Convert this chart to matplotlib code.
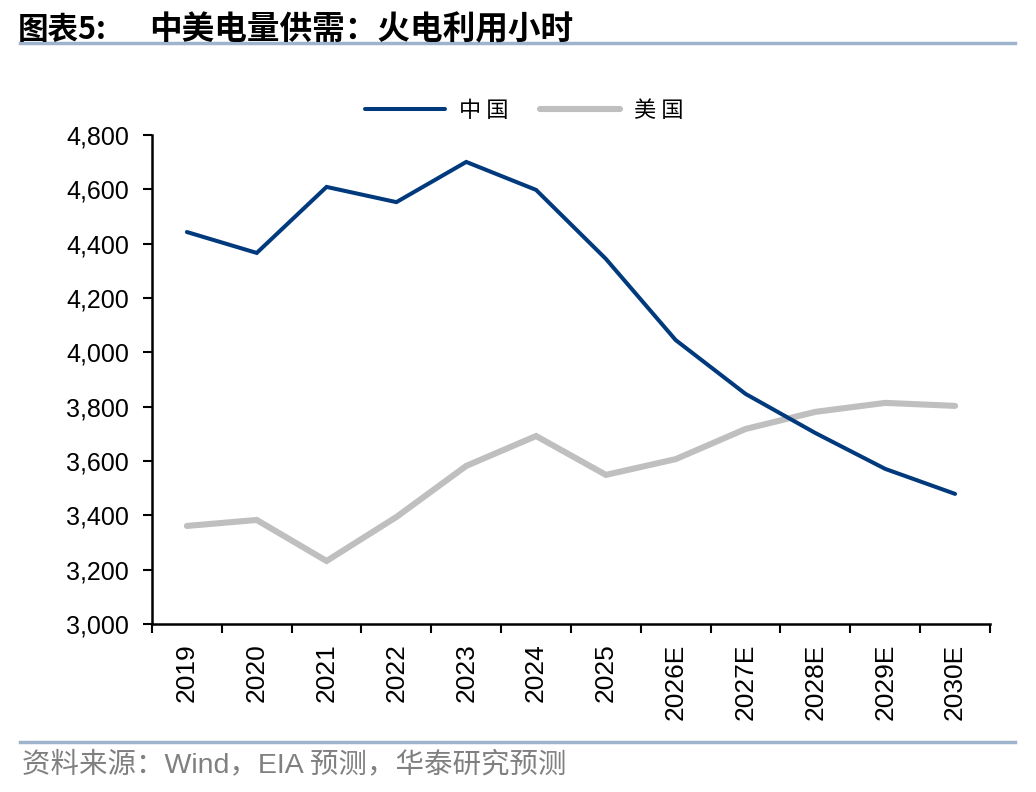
import matplotlib
matplotlib.use("Agg")
import matplotlib.pyplot as plt
from matplotlib.lines import Line2D
from matplotlib.ticker import FuncFormatter, FixedLocator

plt.rcParams['font.family'] = ['Liberation Sans', 'Noto Sans CJK SC', 'DejaVu Sans']

categories = ["2019", "2020", "2021", "2022", "2023", "2024", "2025",
              "2026E", "2027E", "2028E", "2029E", "2030E"]
china = [4443, 4366, 4609, 4553, 4701, 4598, 4344, 4045, 3847, 3703, 3571, 3479]
usa = [3361, 3383, 3232, 3394, 3582, 3692, 3549, 3607, 3718, 3781, 3814, 3803]
series_names = ["中 国", "美 国"]
title_prefix = "图表5:"
title_text = "中美电量供需：火电利用小时"
source_text = "资料来源：Wind，EIA 预测，华泰研究预测"

c_china = "#003A7D"
c_us = "#BFBFBF"
rule_color = "#9DB4CC"

fig = plt.figure(figsize=(10.36, 7.92), dpi=100)
ax = fig.add_axes([0.1467, 0.2121, 0.8089, 0.6174])

x = list(range(len(categories)))
ax.plot(x, usa, color=c_us, lw=4.4, solid_capstyle='round', solid_joinstyle='miter')
ax.plot(x, china, color=c_china, lw=2.9, solid_capstyle='round', solid_joinstyle='miter')

ax.set_ylim(3000, 4800)
ax.set_yticks(range(3000, 4801, 200))
ax.yaxis.set_major_formatter(FuncFormatter(lambda v, p: f"{int(v):,}"))
ax.set_xlim(-0.5, len(categories) - 0.5)
ax.xaxis.set_major_locator(FixedLocator([i - 0.5 for i in range(len(categories) + 1)]))
ax.xaxis.set_major_formatter(FuncFormatter(lambda v, p: ""))
ax.xaxis.set_minor_locator(FixedLocator(x))
ax.set_xticklabels(categories, minor=True, rotation=90, fontsize=19)
ax.tick_params(axis='x', which='minor', length=0, pad=14)
ax.tick_params(axis='x', which='major', length=6.5, width=1.5, direction='out')
ax.tick_params(axis='y', length=6.5, width=1.5, direction='out', labelsize=18, pad=10)

for s in ['top', 'right']:
    ax.spines[s].set_visible(False)
for s in ['left', 'bottom']:
    ax.spines[s].set_linewidth(1.8)
    ax.spines[s].set_color('black')

handles = [Line2D([0], [0], color=c_china, lw=2.9, solid_capstyle='round'),
           Line2D([0], [0], color=c_us, lw=4.4, solid_capstyle='round')]
leg = fig.legend(handles, series_names, loc='center', bbox_to_anchor=(0.506, 0.861),
                 ncol=2, frameon=False, handlelength=3.6, columnspacing=1.45,
                 handletextpad=0.6, prop={'family': ['Noto Sans CJK SC'], 'size': 16})

fig.text(0.017, 0.962, title_prefix, fontsize=22, fontweight='bold',
         family=['Noto Sans CJK SC'], va='center', ha='left')
fig.text(0.144, 0.962, title_text, fontsize=23.5, fontweight='bold',
         family=['Noto Sans CJK SC'], va='center', ha='left')
fig.add_artist(Line2D([0.019, 0.98], [0.946, 0.946], transform=fig.transFigure,
                      color=rule_color, lw=2.5))
fig.add_artist(Line2D([0.019, 0.98], [0.063, 0.063], transform=fig.transFigure,
                      color=rule_color, lw=2.5))
fig.text(0.021, 0.034, source_text, fontsize=20.5, color='#808080',
         family=['Liberation Sans', 'Noto Sans CJK SC'], va='center', ha='left')

fig.savefig("out.png", dpi=100)
